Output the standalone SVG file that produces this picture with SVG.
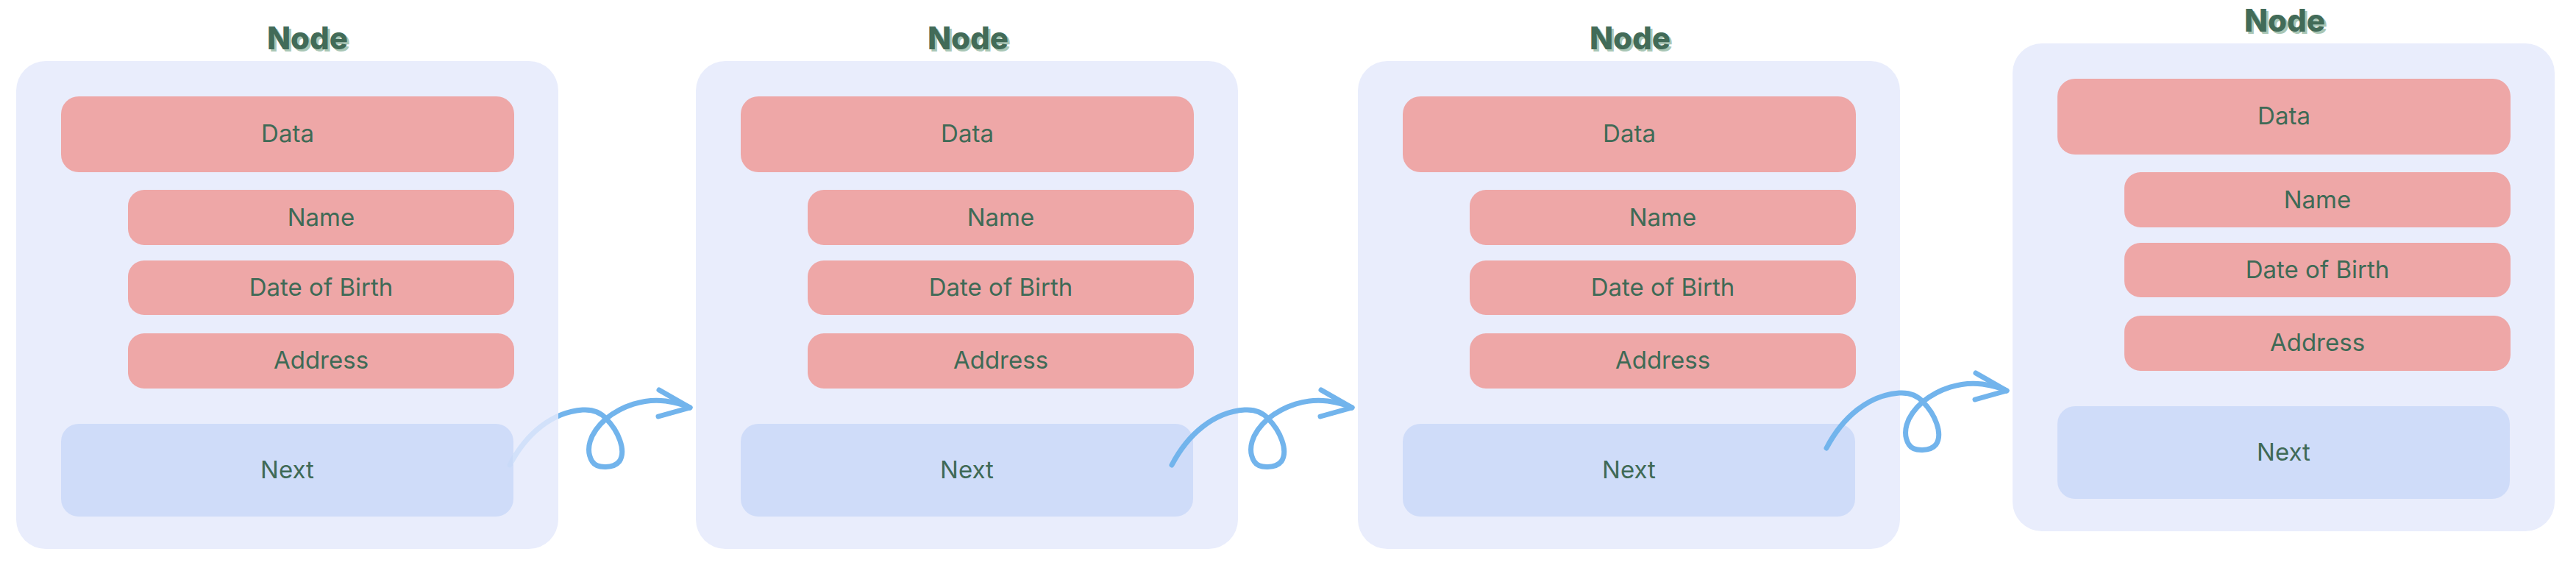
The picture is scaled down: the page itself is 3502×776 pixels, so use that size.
<svg xmlns="http://www.w3.org/2000/svg" width="3502" height="776" viewBox="0 0 3502 776">
<defs>
<style>
.outer{fill:#E9EDFC}
.pink{fill:#EEA7A7}
.next{fill:#CFDCF9}
.lbl{font-family:Inter,"Liberation Sans",sans-serif;font-size:33px;fill:#3F6A56;text-anchor:middle}
.ttl{font-family:Inter,"Liberation Sans",sans-serif;font-size:42px;font-weight:800;text-anchor:middle}
.ttl-main{fill:#426B58}
.ttl-sh{fill:#A9C6B5}
.arrow{fill:none;stroke:#72B4EC;stroke-width:7;stroke-linecap:round;stroke-linejoin:round}
</style>
<linearGradient id="fade1" gradientUnits="userSpaceOnUse" x1="680" y1="0" x2="780" y2="0">
<stop offset="0" stop-color="#C9DAF8"/>
<stop offset="0.17" stop-color="#C9DAF8"/>
<stop offset="0.17" stop-color="#D2E1FA"/>
<stop offset="0.79" stop-color="#D2E1FA"/>
<stop offset="0.79" stop-color="#72B4EC"/>
<stop offset="1" stop-color="#72B4EC"/>
</linearGradient>
</defs>
<rect width="3502" height="776" fill="#FFFFFF"/>

<g id="node1">
<text class="ttl ttl-sh" x="421" y="70">Node</text>
<text class="ttl ttl-main" x="418" y="67">Node</text>
<rect class="outer" x="22" y="83" width="737" height="663" rx="40"/>
<rect class="pink" x="83" y="131" width="616" height="103" rx="24"/>
<text class="lbl" x="391" y="193">Data</text>
<rect class="pink" x="174" y="258" width="525" height="75" rx="22"/>
<text class="lbl" x="436.5" y="307">Name</text>
<rect class="pink" x="174" y="354" width="525" height="74" rx="22"/>
<text class="lbl" x="436.5" y="402">Date of Birth</text>
<rect class="pink" x="174" y="453" width="525" height="75" rx="22"/>
<text class="lbl" x="436.5" y="501">Address</text>
<rect class="next" x="83" y="576" width="615" height="126" rx="24"/>
<text class="lbl" x="390.5" y="650">Next</text>
</g>

<g id="node2" transform="translate(924,0)">
<text class="ttl ttl-sh" x="395" y="70">Node</text>
<text class="ttl ttl-main" x="392" y="67">Node</text>
<rect class="outer" x="22" y="83" width="737" height="663" rx="40"/>
<rect class="pink" x="83" y="131" width="616" height="103" rx="24"/>
<text class="lbl" x="391" y="193">Data</text>
<rect class="pink" x="174" y="258" width="525" height="75" rx="22"/>
<text class="lbl" x="436.5" y="307">Name</text>
<rect class="pink" x="174" y="354" width="525" height="74" rx="22"/>
<text class="lbl" x="436.5" y="402">Date of Birth</text>
<rect class="pink" x="174" y="453" width="525" height="75" rx="22"/>
<text class="lbl" x="436.5" y="501">Address</text>
<rect class="next" x="83" y="576" width="615" height="126" rx="24"/>
<text class="lbl" x="390.5" y="650">Next</text>
</g>

<g id="node3" transform="translate(1824,0)">
<text class="ttl ttl-sh" x="395" y="70">Node</text>
<text class="ttl ttl-main" x="392" y="67">Node</text>
<rect class="outer" x="22" y="83" width="737" height="663" rx="40"/>
<rect class="pink" x="83" y="131" width="616" height="103" rx="24"/>
<text class="lbl" x="391" y="193">Data</text>
<rect class="pink" x="174" y="258" width="525" height="75" rx="22"/>
<text class="lbl" x="436.5" y="307">Name</text>
<rect class="pink" x="174" y="354" width="525" height="74" rx="22"/>
<text class="lbl" x="436.5" y="402">Date of Birth</text>
<rect class="pink" x="174" y="453" width="525" height="75" rx="22"/>
<text class="lbl" x="436.5" y="501">Address</text>
<rect class="next" x="83" y="576" width="615" height="126" rx="24"/>
<text class="lbl" x="390.5" y="650">Next</text>
</g>

<g id="node4" transform="translate(2714,-24)">
<text class="ttl ttl-sh" x="395" y="70">Node</text>
<text class="ttl ttl-main" x="392" y="67">Node</text>
<rect class="outer" x="22" y="83" width="737" height="663" rx="40"/>
<rect class="pink" x="83" y="131" width="616" height="103" rx="24"/>
<text class="lbl" x="391" y="193">Data</text>
<rect class="pink" x="174" y="258" width="525" height="75" rx="22"/>
<text class="lbl" x="436.5" y="307">Name</text>
<rect class="pink" x="174" y="354" width="525" height="74" rx="22"/>
<text class="lbl" x="436.5" y="402">Date of Birth</text>
<rect class="pink" x="174" y="453" width="525" height="75" rx="22"/>
<text class="lbl" x="436.5" y="501">Address</text>
<rect class="next" x="83" y="576" width="615" height="126" rx="24"/>
<text class="lbl" x="390.5" y="650">Next</text>
</g>

<g id="connectors">
<path id="c1" class="arrow" style="stroke:url(#fade1)" d="M693,632 C715,590 750,560 792,557 C808,556 818,562 824,569 C840,585 852,612 842,627 C835,636 812,638 805,627 C796,612 800,590 824,569 C845,552 875,541 905,545 C918,547 930,550 938,554"/>
<path class="arrow" d="M896,530 L938,554 L895,566"/>
<path id="c2" class="arrow" d="M1593,632 C1615,590 1650,560 1692,557 C1708,556 1718,562 1724,569 C1740,585 1752,612 1742,627 C1735,636 1712,638 1705,627 C1696,612 1700,590 1724,569 C1745,552 1775,541 1805,545 C1818,547 1830,550 1838,554"/>
<path class="arrow" d="M1796,530 L1838,554 L1795,566"/>
<path id="c3" class="arrow" d="M2483,609 C2505,567 2540,537 2582,534 C2598,533 2608,539 2614,546 C2630,562 2642,589 2632,604 C2625,613 2602,615 2595,604 C2586,589 2590,567 2614,546 C2635,529 2665,518 2695,522 C2708,524 2720,527 2728,531"/>
<path class="arrow" d="M2686,507 L2728,531 L2685,543"/>
</g>
</svg>
